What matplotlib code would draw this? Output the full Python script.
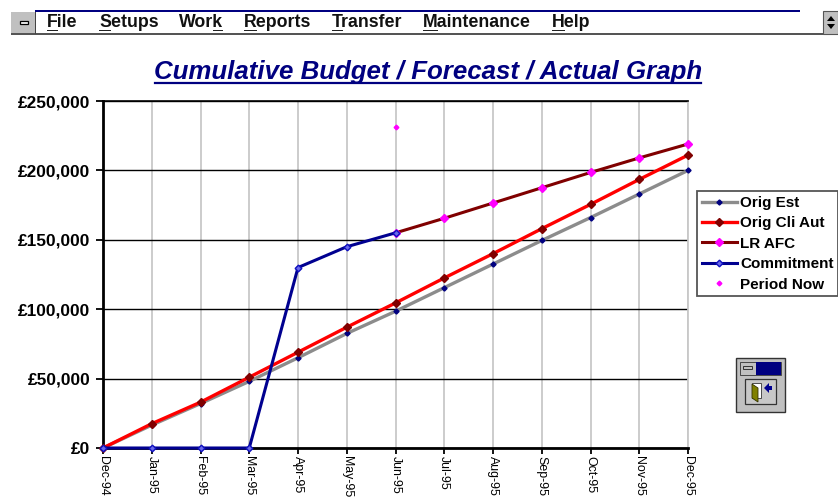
import numpy as np
import matplotlib
matplotlib.use("Agg")
import matplotlib.pyplot as plt
from matplotlib.patches import Rectangle, Polygon
from matplotlib.ticker import FuncFormatter

months = ["Dec-94","Jan-95","Feb-95","Mar-95","Apr-95","May-95","Jun-95","Jul-95","Aug-95","Sep-95","Oct-95","Nov-95","Dec-95"]
orig_est = [0,16500,32000,48000,65000,82500,98500,115500,132500,149500,166000,183000,200000]
orig_cli = [0,17500,33000,51000,69000,87000,104500,122500,140000,158000,175500,193500,211000]
lr_afc = [None,None,None,None,None,None,155000,165500,176500,187500,198500,209000,219000]
commitment = [0,0,0,0,130000,145000,155000,None,None,None,None,None,None]
period_now = [None,None,None,None,None,None,231000,None,None,None,None,None,None]
menu_items = ["File","Setups","Work","Reports","Transfer","Maintenance","Help"]
menu_x = [47,99,179,244,332,423,552]
menu_ul = [0,0,3,0,0,0,0]

def arr(v):
    return np.array([np.nan if a is None else a for a in v], float)

W, H = 838, 497
fig = plt.figure(figsize=(W/100, H/100), dpi=100, facecolor="white")
plt.rcParams['font.family'] = ['Liberation Sans', 'DejaVu Sans']
ax = fig.add_axes([103/W, 1-448/H, 585/W, 347/H])
x = np.arange(len(months))
ax.set_xlim(0, 12); ax.set_ylim(0, 250000)
ax.set_axisbelow(True)
ax.xaxis.grid(True, color="#c8c8c8", lw=1.3)
ax.yaxis.grid(True, color="black", lw=1.0)

ax.plot(x, arr(orig_est), color="#8c8c8c", lw=2.4, marker="D", ms=2.6, mfc="#000080", mec="#000080", label="Orig Est", clip_on=False, zorder=3)
ax.plot(x, arr(orig_cli), color="#ff0000", lw=2.4, marker="D", ms=4, mfc="#800000", mec="#800000", label="Orig Cli Aut", clip_on=False, zorder=4)
ax.plot(x, arr(lr_afc), color="#800000", lw=2.2, marker="D", ms=3.6, mfc="#ff00ff", mec="#ff00ff", label="LR AFC", clip_on=False, zorder=5)
ax.plot(x, arr(commitment), color="#000090", lw=2.2, marker="D", ms=3.4, mfc="#6a6ae8", mec="#1010c0", label="Commitment", clip_on=False, zorder=6)
ax.plot(x, arr(period_now), ls="none", marker="D", ms=2.4, mfc="#ff00ff", mec="#ff00ff", label="Period Now", zorder=7)

ax.set_xticks(x)
ax.set_xticklabels(months, rotation=-90, fontsize=8.9, ha="center", va="top")
ax.yaxis.set_major_formatter(FuncFormatter(lambda v, p: f"£{int(v):,}"))
ax.set_yticks(np.arange(0, 250001, 50000))
for t in ax.get_yticklabels():
    t.set_fontsize(12.4); t.set_fontweight("bold")
ax.tick_params(axis="y", length=5, width=1.3, color="black", pad=4)
ax.tick_params(axis="x", length=4, width=1.3, pad=1.5)
ax.spines["right"].set_color("#c8c8c8"); ax.spines["right"].set_linewidth(1.3)
ax.spines["top"].set_linewidth(1.2)
ax.spines["left"].set_linewidth(2)
ax.spines["bottom"].set_linewidth(2)

leg = fig.legend(loc="upper left", bbox_to_anchor=(697/W, 1-191/H), bbox_transform=fig.transFigure,
                 frameon=True, fancybox=False, edgecolor="#555555", framealpha=1, borderpad=0.32,
                 handlelength=2.3, handletextpad=0.2, labelspacing=0.42, borderaxespad=0,
                 prop={"size": 11, "weight": "bold"})
leg.get_frame().set_linewidth(1.3)

# Title
fig.text(428.5/W, 1-72/H, "Cumulative Budget / Forecast / Actual Graph", ha="center", va="center",
         fontsize=18.6, fontweight="bold", fontstyle="italic", color="#000080")
fig.add_artist(plt.Line2D([155/W, 701/W], [1-83/H, 1-83/H], color="#000080", lw=1.6))

# Menu bar
tr = fig.transFigure
def px(a, b, w, h, **k):
    fig.add_artist(Rectangle((a/W, 1-(b+h)/H), w/W, h/H, transform=tr, **k))
px(35, 10, 765, 2, fc="#000080", ec="none")
px(11, 12, 827, 21, fc="white", ec="none")
px(11, 12, 24, 22, fc="#c0c0c0", ec="none")
px(20, 21, 8, 3, fc="white", ec="black", lw=0.9)
px(11, 33, 827, 1.6, fc="#555555", ec="none")
px(35, 12, 1, 22, fc="#444444", ec="none")
px(823, 11, 15, 23, fc="#c0c0c0", ec="#555555", lw=0.8)
fig.add_artist(Polygon([(827/W,1-21/H),(835/W,1-21/H),(831/W,1-16/H)], transform=tr, fc="black", ec="none"))
fig.add_artist(Polygon([(827/W,1-24/H),(835/W,1-24/H),(831/W,1-29/H)], transform=tr, fc="black", ec="none"))
rend = fig.canvas.get_renderer()
MS = 12.8
for name, mx, ui in zip(menu_items, menu_x, menu_ul):
    t = fig.text(mx/W, 1-22.5/H, name, ha="left", va="center", fontsize=MS, fontweight="bold",
                 color="#111111", family=["Liberation Sans", "DejaVu Sans"])
    sub = fig.text(0, 0, name[:ui] if ui else "", fontsize=MS, fontweight="bold", alpha=0)
    off = sub.get_window_extent(rend).width if ui else 0
    sub.remove()
    sub2 = fig.text(0, 0, name[ui], fontsize=MS, fontweight="bold", alpha=0)
    cw = sub2.get_window_extent(rend).width
    sub2.remove()
    px(mx+off, 30, cw, 1.2, fc="#222222", ec="none")

# Exit icon
px(736, 358, 49, 54, fc="#c0c0c0", ec="#333333", lw=1)
px(740, 362, 41, 13, fc="#c0c0c0", ec="#333333", lw=0.6)
px(756, 362, 25, 13, fc="#000080", ec="none")
px(743, 366, 9, 3, fc="#c0c0c0", ec="#333333", lw=0.7)
px(745, 379, 31, 25, fc="#c8c8c8", ec="#333333", lw=0.9)
px(752, 383, 9, 15, fc="white", ec="#333333", lw=0.6)
fig.add_artist(Polygon([(752/W,1-384/H),(758/W,1-388/H),(758/W,1-402/H),(752/W,1-398/H)], transform=tr, fc="#808000", ec="#333300", lw=0.6))
fig.add_artist(Polygon([(764/W,1-388/H),(769/W,1-383/H),(769/W,1-386/H),(772/W,1-386/H),(772/W,1-390/H),(769/W,1-390/H),(769/W,1-393/H)], transform=tr, fc="#000090", ec="none"))

fig.savefig("out.png", dpi=100)
